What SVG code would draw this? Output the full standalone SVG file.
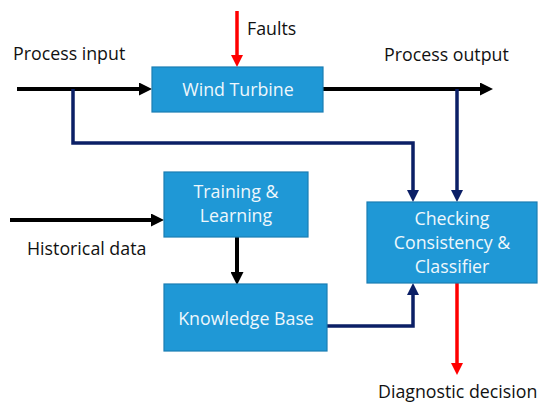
<svg xmlns="http://www.w3.org/2000/svg" width="550" height="413" viewBox="0 0 550 413">
<style>
.box{fill:#1f98d6;stroke:#1a7db3;stroke-width:1.2}
.bt{font-family:"Open Sans","Liberation Sans",sans-serif;font-size:17.8px;fill:#eef7fc;text-anchor:middle}
.lb{font-family:"Open Sans","Liberation Sans",sans-serif;font-size:17.8px;fill:#111}
.k{stroke:#000;stroke-width:4;fill:none}
.n{stroke:#0b1f66;stroke-width:3.5;fill:none;stroke-linejoin:miter}
.r{stroke:#ff0000;stroke-width:3.5;fill:none}
</style>
<defs>
<marker id="ak" markerUnits="userSpaceOnUse" markerWidth="13" markerHeight="13" refX="0" refY="6.5" orient="auto"><path d="M0,0 L13,6.5 L0,13 z" fill="#000"/></marker>
<marker id="an" markerUnits="userSpaceOnUse" markerWidth="12" markerHeight="12" refX="0" refY="6" orient="auto"><path d="M0,0 L12,6 L0,12 z" fill="#0b1f66"/></marker>
<marker id="ar" markerUnits="userSpaceOnUse" markerWidth="12" markerHeight="12" refX="0" refY="6" orient="auto"><path d="M0,0 L12,6 L0,12 z" fill="#ff0000"/></marker>
</defs>
<rect width="550" height="413" fill="#fff"/>
<g id="connectors">
<line class="k" x1="17" y1="89" x2="139" y2="89" marker-end="url(#ak)"/>
<line class="k" x1="323" y1="89" x2="480" y2="89" marker-end="url(#ak)"/>
<line class="r" x1="237" y1="11" x2="237" y2="55" marker-end="url(#ar)"/>
<polyline class="n" points="73,89 73,143 413,143 413,190" marker-end="url(#an)"/>
<line class="n" x1="457" y1="89" x2="457" y2="190" marker-end="url(#an)"/>
<line class="k" x1="10" y1="220" x2="151" y2="220" marker-end="url(#ak)"/>
<line class="k" x1="237" y1="237" x2="237" y2="272" marker-end="url(#ak)"/>
<polyline class="n" points="327,326 413,326 413,295" marker-end="url(#an)"/>
<line class="r" x1="457" y1="283" x2="457" y2="363" marker-end="url(#ar)"/>
</g>
<g id="wind-turbine">
<rect class="box" x="152" y="67" width="171" height="45"/>
<text class="bt" x="238" y="96">Wind Turbine</text>
</g>
<g id="training">
<rect class="box" x="164" y="172" width="144" height="65"/>
<text class="bt" x="236" y="198">Training &amp;</text>
<text class="bt" x="236" y="222">Learning</text>
</g>
<g id="knowledge-base">
<rect class="box" x="164" y="284" width="163" height="67"/>
<text class="bt" x="246" y="325">Knowledge Base</text>
</g>
<g id="checking">
<rect class="box" x="367" y="202" width="170" height="81"/>
<text class="bt" x="452" y="225">Checking</text>
<text class="bt" x="452" y="249">Consistency &amp;</text>
<text class="bt" x="452" y="273">Classifier</text>
</g>
<g id="labels">
<text class="lb" x="247" y="35">Faults</text>
<text class="lb" x="13" y="60">Process input</text>
<text class="lb" x="384" y="61">Process output</text>
<text class="lb" x="27" y="255">Historical data</text>
<text class="lb" x="378" y="398">Diagnostic decision</text>
</g>
</svg>
